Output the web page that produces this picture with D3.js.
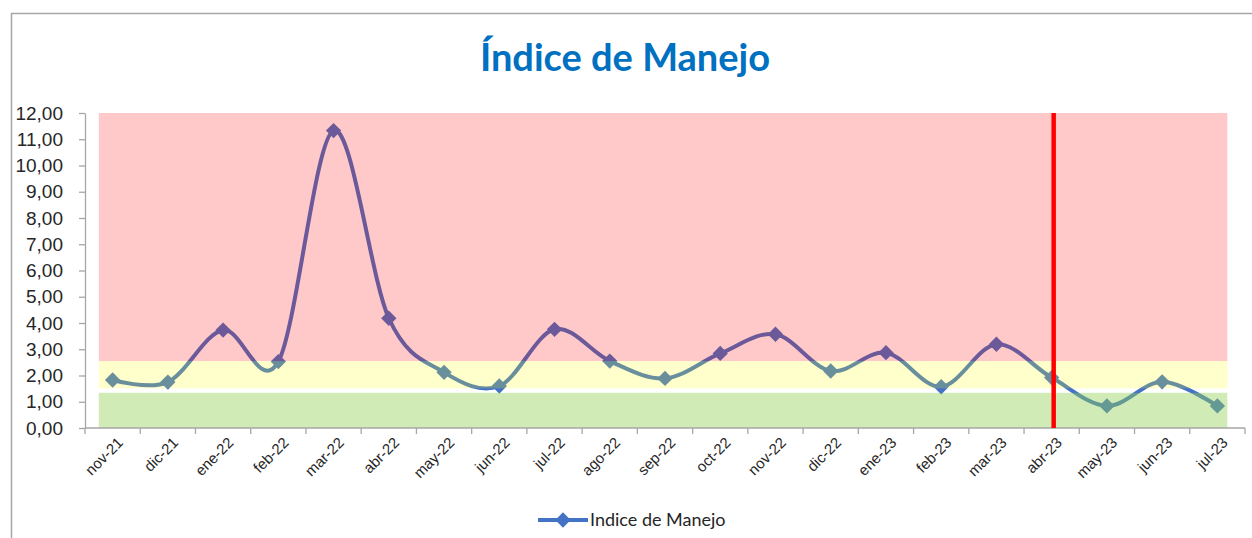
<!DOCTYPE html>
<html>
<head>
<meta charset="utf-8">
<script src="https://cdn.jsdelivr.net/npm/d3@7"></script>
<style>
  body { margin: 0; background: #fff; }
  svg { display: block; font-family: Lato, "Open Sans", sans-serif; }
</style>
</head>
<body>
<div id="chart"></div>
<script>
// data
var months = ["nov-21", "dic-21", "ene-22", "feb-22", "mar-22", "abr-22", "may-22",
  "jun-22", "jul-22", "ago-22", "sep-22", "oct-22", "nov-22", "dic-22", "ene-23",
  "feb-23", "mar-23", "abr-23", "may-23", "jun-23", "jul-23"];
var indice = [1.83, 1.75, 3.73, 2.53, 11.33, 4.18, 2.12, 1.6, 3.76, 2.55, 1.89,
  2.84, 3.57, 2.17, 2.87, 1.57, 3.19, 1.92, 0.84, 1.76, 0.84];
var yTicks = [0, 1, 2, 3, 4, 5, 6, 7, 8, 9, 10, 11, 12];
// background zones (low, high)
var zoneNames = ["rojo", "amarillo", "verde"];
var zoneLow = [2.55, 1.51, 0];
var zoneHigh = [12, 2.55, 1.34];
var cutMonth = "abr-23";

var width = 1252, height = 538;
var margin = { top: 113, right: 7, bottom: 110, left: 85 };

var svg = d3.select("#chart").append("svg")
  .attr("width", width)
  .attr("height", height);

// chart frame
svg.append("rect")
  .attr("x", 11.5).attr("y", 13.5)
  .attr("width", width + 20).attr("height", height + 20)
  .attr("fill", "none")
  .attr("stroke", "#a6a6a6")
  .attr("stroke-width", 1.5);

svg.append("text")
  .attr("x", 625).attr("y", 71)
  .attr("text-anchor", "middle")
  .attr("fill", "#0070c0")
  .style("font-weight", "bold")
  .style("font-size", "38px")
  .text("Índice de Manejo");

var x = d3.scaleBand()
  .domain(months)
  .range([margin.left, width - margin.right])
  .padding(0);

var y = d3.scaleLinear()
  .domain([0, 12])
  .range([height - margin.bottom, margin.top]);

var cx = function (m) { return x(m) + x.bandwidth() / 2; };

var g = svg.append("g");

// series (drawn under the translucent zones, like the original)
var line = d3.line()
  .x(function (d, i) { return cx(months[i]); })
  .y(function (d) { return y(d); })
  .curve(d3.curveCardinal.tension(0));

var blue = "#4472c4";

g.append("path")
  .datum(indice)
  .attr("d", line)
  .attr("fill", "none")
  .attr("stroke", blue)
  .attr("stroke-width", 4)
  .attr("stroke-linejoin", "round");

var diamond = d3.symbol().type(d3.symbolDiamond2).size(150);

g.selectAll(".dot")
  .data(indice)
  .enter().append("path")
  .attr("class", "dot")
  .attr("d", diamond)
  .attr("transform", function (d, i) { return "translate(" + cx(months[i]) + "," + y(d) + ")"; })
  .attr("fill", blue);

// zones
var zoneColor = d3.scaleOrdinal()
  .domain(zoneNames)
  .range(["rgba(255,0,0,0.21)", "rgba(255,255,0,0.2)", "rgba(146,208,80,0.42)"]);

var zx0 = cx(months[0]) - x.bandwidth() * 0.25;
var zx1 = cx(months[months.length - 1]) + x.bandwidth() * 0.18;

g.selectAll(".zone")
  .data(zoneNames)
  .enter().append("rect")
  .attr("class", "zone")
  .attr("x", zx0)
  .attr("width", zx1 - zx0)
  .attr("y", function (d, i) { return y(zoneHigh[i]); })
  .attr("height", function (d, i) { return y(zoneLow[i]) - y(zoneHigh[i]); })
  .attr("fill", function (d) { return zoneColor(d); });

// axes
var fmt = function (d) { return d3.format(".2f")(d).replace(".", ","); };

var yAxis = d3.axisLeft(y)
  .tickValues(yTicks)
  .tickFormat(fmt)
  .tickSize(6)
  .tickPadding(16)
  .tickSizeOuter(0);

var gy = svg.append("g")
  .attr("class", "y-axis")
  .attr("transform", "translate(" + margin.left + ",0)")
  .call(yAxis);

gy.selectAll("text")
  .attr("fill", "#262626")
  .style("font-size", "19px");

var xAxis = d3.axisBottom(x)
  .tickSize(0)
  .tickPadding(0);

var gx = svg.append("g")
  .attr("class", "x-axis")
  .attr("transform", "translate(0," + y(0) + ")")
  .call(xAxis);

gx.select(".domain").attr("d", "M" + margin.left + ",0H" + (width - margin.right));

// boundary ticks between categories
gx.selectAll(".bound")
  .data(d3.range(months.length + 1))
  .enter().append("line")
  .attr("class", "bound")
  .attr("x1", function (d) { return margin.left + d * x.step(); })
  .attr("x2", function (d) { return margin.left + d * x.step(); })
  .attr("y1", 0).attr("y2", 6);

gx.selectAll(".tick line").remove();
gx.selectAll(".tick text")
  .attr("fill", "#262626")
  .style("font-size", "15px")
  .attr("text-anchor", "end")
  .attr("transform", "translate(" + (x.bandwidth() / 2 - 20) + ",12) rotate(-45)")
  .attr("dy", "0.35em")
  .attr("x", 0).attr("y", 0);

svg.selectAll(".domain, .y-axis .tick line, .bound")
  .attr("stroke", "#a6a6a6")
  .attr("stroke-width", 1.3);

// cut-off marker
svg.append("line")
  .attr("x1", cx(cutMonth) + 2).attr("x2", cx(cutMonth) + 2)
  .attr("y1", y(12)).attr("y2", y(0))
  .attr("stroke", "#ff0000")
  .attr("stroke-width", 4.5);

// legend
var leg = svg.append("g").attr("transform", "translate(538,520)");
leg.append("line")
  .attr("x1", 0).attr("x2", 50)
  .attr("stroke", blue).attr("stroke-width", 4);
leg.append("path")
  .attr("d", diamond)
  .attr("transform", "translate(25,0)")
  .attr("fill", blue);
leg.append("text")
  .attr("x", 52).attr("y", 0)
  .attr("dy", "0.35em")
  .attr("fill", "#262626")
  .style("font-size", "18px")
  .text("Indice de Manejo");
</script>
</body>
</html>
